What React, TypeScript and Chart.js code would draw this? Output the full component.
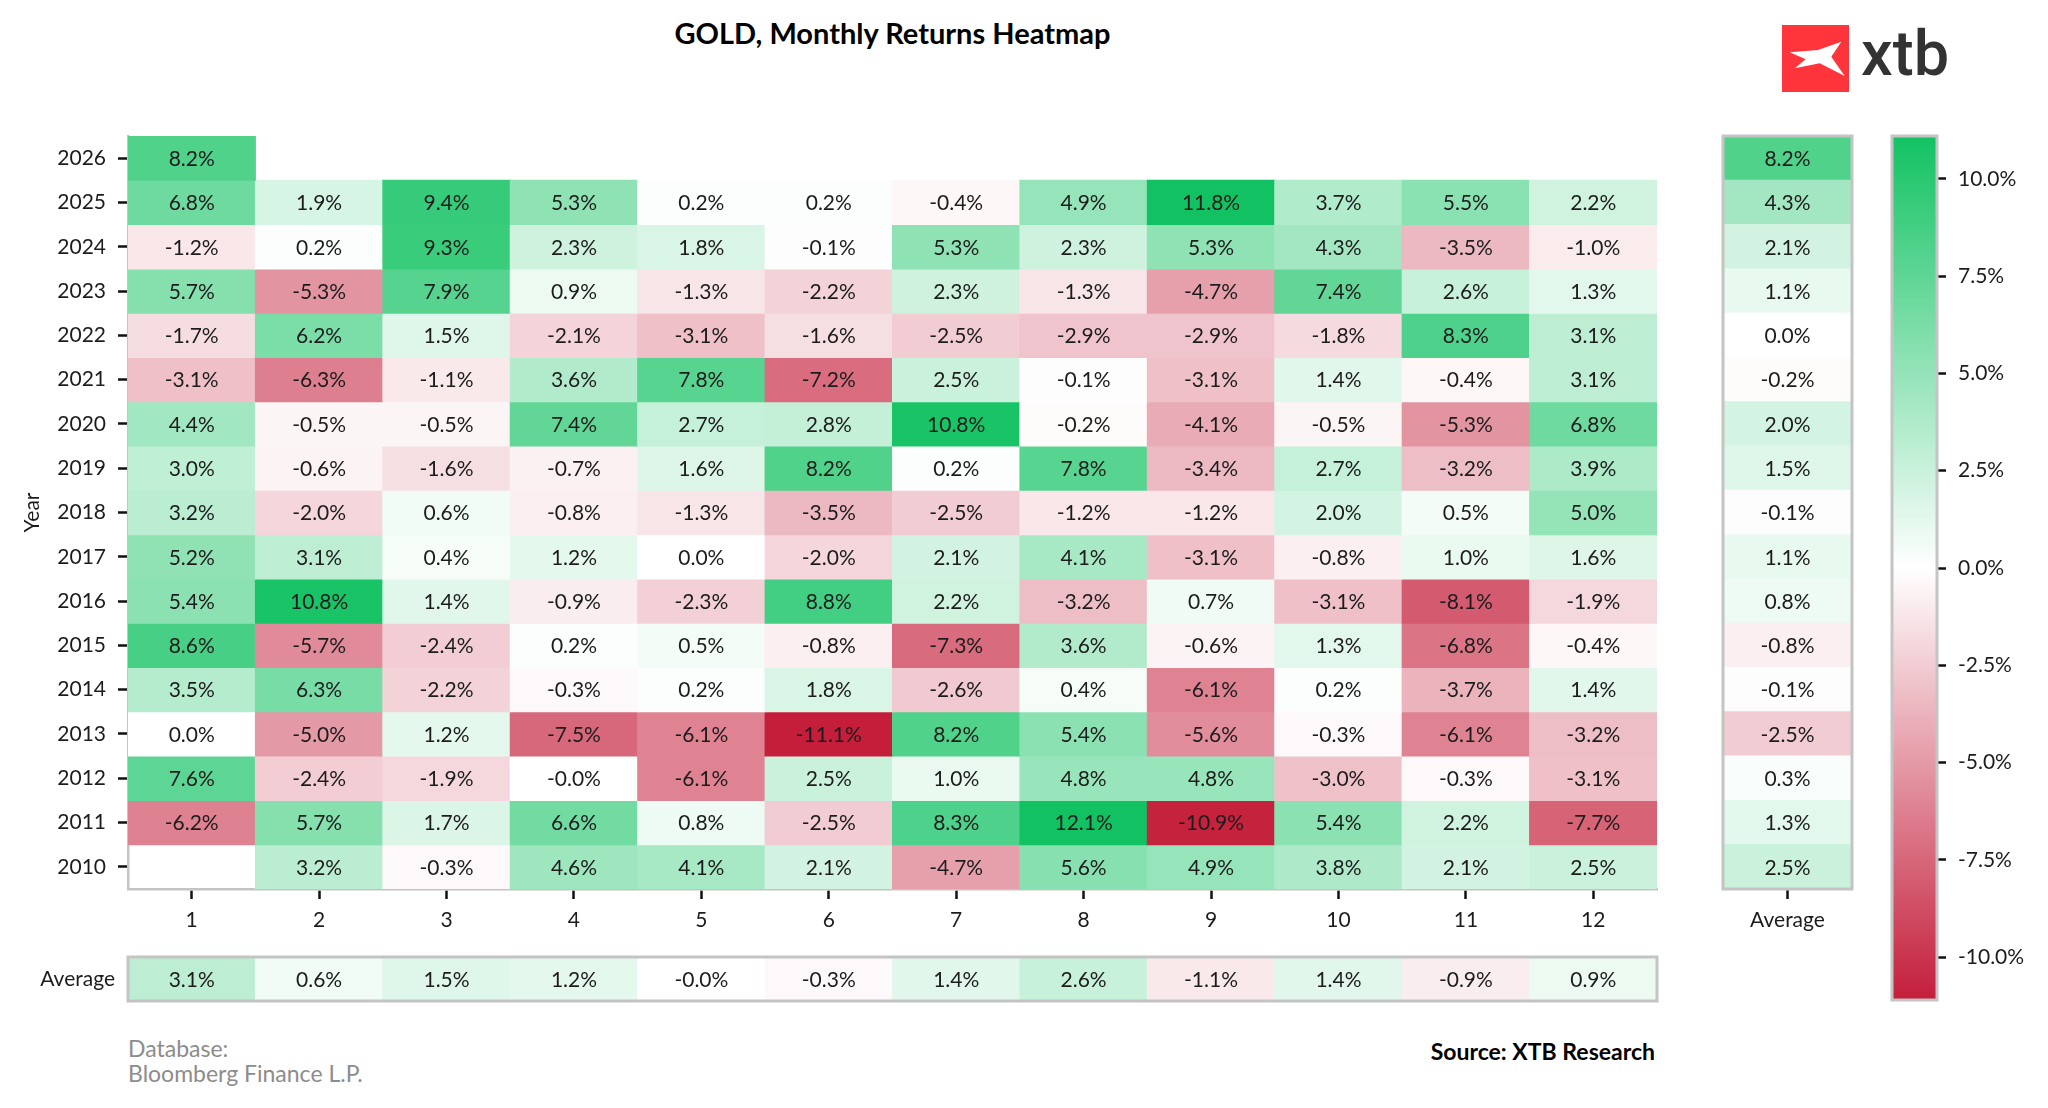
import React, { useEffect, useRef } from "react";
import { Chart, registerables } from "chart.js";

Chart.register(...registerables);

// ---------------- data ----------------
const MONTHS = ["1", "2", "3", "4", "5", "6", "7", "8", "9", "10", "11", "12"];
const YEARS = ["2026", "2025", "2024", "2023", "2022", "2021", "2020", "2019", "2018", "2017", "2016", "2015", "2014", "2013", "2012", "2011", "2010"];

const R2026 = [8.2, null, null, null, null, null, null, null, null, null, null, null];
const R2025 = [6.8, 1.9, 9.4, 5.3, 0.2, 0.2, -0.4, 4.9, 11.8, 3.7, 5.5, 2.2];
const R2024 = [-1.2, 0.2, 9.3, 2.3, 1.8, -0.1, 5.3, 2.3, 5.3, 4.3, -3.5, -1.0];
const R2023 = [5.7, -5.3, 7.9, 0.9, -1.3, -2.2, 2.3, -1.3, -4.7, 7.4, 2.6, 1.3];
const R2022 = [-1.7, 6.2, 1.5, -2.1, -3.1, -1.6, -2.5, -2.9, -2.9, -1.8, 8.3, 3.1];
const R2021 = [-3.1, -6.3, -1.1, 3.6, 7.8, -7.2, 2.5, -0.1, -3.1, 1.4, -0.4, 3.1];
const R2020 = [4.4, -0.5, -0.5, 7.4, 2.7, 2.8, 10.8, -0.2, -4.1, -0.5, -5.3, 6.8];
const R2019 = [3.0, -0.6, -1.6, -0.7, 1.6, 8.2, 0.2, 7.8, -3.4, 2.7, -3.2, 3.9];
const R2018 = [3.2, -2.0, 0.6, -0.8, -1.3, -3.5, -2.5, -1.2, -1.2, 2.0, 0.5, 5.0];
const R2017 = [5.2, 3.1, 0.4, 1.2, 0.0, -2.0, 2.1, 4.1, -3.1, -0.8, 1.0, 1.6];
const R2016 = [5.4, 10.8, 1.4, -0.9, -2.3, 8.8, 2.2, -3.2, 0.7, -3.1, -8.1, -1.9];
const R2015 = [8.6, -5.7, -2.4, 0.2, 0.5, -0.8, -7.3, 3.6, -0.6, 1.3, -6.8, -0.4];
const R2014 = [3.5, 6.3, -2.2, -0.3, 0.2, 1.8, -2.6, 0.4, -6.1, 0.2, -3.7, 1.4];
const R2013 = [0.0, -5.0, 1.2, -7.5, -6.1, -11.1, 8.2, 5.4, -5.6, -0.3, -6.1, -3.2];
const R2012 = [7.6, -2.4, -1.9, -0, -6.1, 2.5, 1.0, 4.8, 4.8, -3.0, -0.3, -3.1];
const R2011 = [-6.2, 5.7, 1.7, 6.6, 0.8, -2.5, 8.3, 12.1, -10.9, 5.4, 2.2, -7.7];
const R2010 = [null, 3.2, -0.3, 4.6, 4.1, 2.1, -4.7, 5.6, 4.9, 3.8, 2.1, 2.5];

const ROWS = [R2026, R2025, R2024, R2023, R2022, R2021, R2020, R2019, R2018, R2017, R2016, R2015, R2014, R2013, R2012, R2011, R2010];

const YEAR_AVG = [8.2, 4.3, 2.1, 1.1, 0.0, -0.2, 2.0, 1.5, -0.1, 1.1, 0.8, -0.8, -0.1, -2.5, 0.3, 1.3, 2.5];
const MONTH_AVG = [3.1, 0.6, 1.5, 1.2, -0, -0.3, 1.4, 2.6, -1.1, 1.4, -0.9, 0.9];

const COLORBAR_TICKS = [-10, -7.5, -5, -2.5, 0, 2.5, 5, 7.5, 10];
const COLOR_MIN = -11.1;
const COLOR_MAX = 11.1;

// ---------------- styles ----------------
const FONT = "Lato, 'Open Sans', sans-serif";
const TEXT = "#1c1c1c";
const GREEN = [18, 194, 98];
const RED = [196, 30, 58];
const FRAME = "#c4c4c4";

function colorFor(v: number | null): string {
  if (v == null) return "rgba(0,0,0,0)";
  const t = Math.max(-1, Math.min(1, v >= 0 ? v / COLOR_MAX : v / -COLOR_MIN));
  const end = t >= 0 ? GREEN : RED;
  const a = Math.abs(t);
  const c = end.map((e) => Math.round(255 + (e - 255) * a));
  return `rgb(${c[0]},${c[1]},${c[2]})`;
}

function fmt(v: number): string {
  const neg = v < 0 || Object.is(v, -0);
  return (neg ? "-" : "") + Math.abs(v).toFixed(1) + "%";
}

// ---------------- plugins ----------------
const cellLabels = {
  id: "cellLabels",
  afterDatasetsDraw(chart: any) {
    const ctx = chart.ctx;
    ctx.save();
    ctx.font = `21px ${FONT}`;
    ctx.fillStyle = TEXT;
    ctx.textAlign = "center";
    ctx.textBaseline = "middle";
    chart.data.datasets.forEach((ds: any, di: number) => {
      if (!ds.values) return;
      const meta = chart.getDatasetMeta(di);
      meta.data.forEach((el: any, i: number) => {
        const v = ds.values[i];
        if (v == null) return;
        const p = el.getCenterPoint(true);
        ctx.fillText(fmt(v), p.x, p.y + 1);
      });
    });
    ctx.restore();
  },
};

const frame = {
  id: "frame",
  afterDraw(chart: any, _args: any, opts: any) {
    if (!opts || !opts.show) return;
    const { left, top, width, height } = chart.chartArea;
    const ctx = chart.ctx;
    ctx.save();
    ctx.strokeStyle = FRAME;
    ctx.lineWidth = 3;
    ctx.strokeRect(left, top, width, height);
    ctx.restore();
  },
};

const tickFont = { family: FONT, size: 21 };
const tickGrid = {
  display: true,
  drawOnChartArea: false,
  drawTicks: true,
  tickLength: 10,
  tickWidth: 2.5,
  tickColor: "#111",
  offset: false,
};

const baseOptions = {
  responsive: false,
  animation: false as const,
  events: [] as any[],
};

function barDefaults() {
  return {
    borderWidth: 0,
    grouped: false,
    barPercentage: 1,
    categoryPercentage: 1,
    inflateAmount: 0.5,
  };
}

function fixV(width: number) {
  return (s: any) => {
    s.width = width;
    s.paddingTop = 0;
    s.paddingBottom = 0;
  };
}
function fixH(height: number) {
  return (s: any) => {
    s.height = height;
    s.paddingLeft = 0;
    s.paddingRight = 0;
  };
}

// ---------------- chart configs ----------------
function mainConfig(): any {
  return {
    type: "bar",
    data: {
      labels: MONTHS,
      datasets: ROWS.map((row, k) => ({
        label: YEARS[k],
        data: row.map((v) => (v == null ? null : [k - 0.5, k + 0.5])),
        values: row,
        backgroundColor: row.map(colorFor),
        ...barDefaults(),
      })),
    },
    options: {
      ...baseOptions,
      layout: { padding: { left: 0, top: 16, right: 23, bottom: 0 } },
      plugins: { legend: { display: false }, tooltip: { enabled: false }, frame: { show: false } },
      scales: {
        x: {
          type: "category",
          grid: tickGrid,
          border: { display: true, color: FRAME, width: 2.5 },
          ticks: { font: tickFont, color: TEXT, padding: 9, autoSkip: false, maxRotation: 0 },
          afterFit: fixH(61),
          z: 1,
        },
        y: {
          type: "linear",
          reverse: true,
          min: -0.5,
          max: 16.5,
          afterBuildTicks: (s: any) => {
            s.ticks = YEARS.map((_, k) => ({ value: k }));
          },
          grid: tickGrid,
          border: { display: true, color: FRAME, width: 2.5 },
          ticks: {
            font: tickFont,
            color: TEXT,
            padding: 12,
            autoSkip: false,
            callback: (v: number) => YEARS[Math.round(v)],
          },
          title: { display: true, text: "Year", font: { family: FONT, size: 21 }, color: TEXT, padding: { top: 20, bottom: 0 } },
          afterFit: fixV(128),
          z: 1,
        },
      },
    },
    plugins: [cellLabels, frame],
  };
}

function avgColumnConfig(): any {
  return {
    type: "bar",
    data: {
      labels: YEARS,
      datasets: [
        {
          data: YEAR_AVG.map(() => [-0.5, 0.5]),
          values: YEAR_AVG,
          backgroundColor: YEAR_AVG.map(colorFor),
          ...barDefaults(),
        },
      ],
    },
    options: {
      ...baseOptions,
      indexAxis: "y",
      layout: { padding: { left: 23, top: 16, right: 28, bottom: 0 } },
      plugins: { legend: { display: false }, tooltip: { enabled: false }, frame: { show: true } },
      scales: {
        y: { type: "category", display: false },
        x: {
          type: "linear",
          min: -0.5,
          max: 0.5,
          afterBuildTicks: (s: any) => {
            s.ticks = [{ value: 0 }];
          },
          grid: tickGrid,
          border: { display: false },
          ticks: { font: tickFont, color: TEXT, padding: 9, callback: () => "Average" },
          afterFit: fixH(61),
        },
      },
    },
    plugins: [cellLabels, frame],
  };
}

function avgRowConfig(): any {
  return {
    type: "bar",
    data: {
      labels: MONTHS,
      datasets: [
        {
          data: MONTH_AVG.map(() => [-0.5, 0.5]),
          values: MONTH_AVG,
          backgroundColor: MONTH_AVG.map(colorFor),
          ...barDefaults(),
        },
      ],
    },
    options: {
      ...baseOptions,
      layout: { padding: { left: 0, top: 17, right: 23, bottom: 19 } },
      plugins: { legend: { display: false }, tooltip: { enabled: false }, frame: { show: true } },
      scales: {
        x: { type: "category", display: false },
        y: {
          type: "linear",
          min: -0.5,
          max: 0.5,
          afterBuildTicks: (s: any) => {
            s.ticks = [{ value: 0 }];
          },
          grid: { display: false, drawTicks: false },
          border: { display: false },
          ticks: { font: tickFont, color: TEXT, padding: 13, callback: () => "Average" },
          afterFit: fixV(128),
        },
      },
    },
    plugins: [cellLabels, frame],
  };
}

function colorbarConfig(): any {
  return {
    type: "bar",
    data: {
      labels: [""],
      datasets: [
        {
          data: [[COLOR_MIN, COLOR_MAX]],
          backgroundColor: (c: any) => {
            const area = c.chart.chartArea;
            if (!area) return "rgba(0,0,0,0)";
            const g = c.chart.ctx.createLinearGradient(0, area.bottom, 0, area.top);
            g.addColorStop(0, colorFor(COLOR_MIN));
            g.addColorStop(0.5, colorFor(0));
            g.addColorStop(1, colorFor(COLOR_MAX));
            return g;
          },
          ...barDefaults(),
        },
      ],
    },
    options: {
      ...baseOptions,
      layout: { padding: { left: 12, top: 16, right: 0, bottom: 20 } },
      plugins: { legend: { display: false }, tooltip: { enabled: false }, frame: { show: true } },
      scales: {
        x: { type: "category", display: false },
        y: {
          type: "linear",
          position: "right",
          min: COLOR_MIN,
          max: COLOR_MAX,
          afterBuildTicks: (s: any) => {
            s.ticks = COLORBAR_TICKS.map((v) => ({ value: v }));
          },
          grid: { ...tickGrid, tickLength: 9 },
          border: { display: false },
          ticks: { font: tickFont, color: TEXT, padding: 12, callback: (v: number) => v.toFixed(1) + "%" },
          afterFit: fixV(111),
        },
      },
    },
    plugins: [frame],
  };
}

// ---------------- components ----------------
function ChartBox(props: { left: number; top: number; width: number; height: number; make: () => any }) {
  const ref = useRef<HTMLCanvasElement>(null);
  useEffect(() => {
    const chart = new Chart(ref.current as HTMLCanvasElement, props.make());
    return () => chart.destroy();
  }, []);
  return (
    <div style={{ position: "absolute", left: props.left, top: props.top, width: props.width, height: props.height }}>
      <canvas ref={ref} width={props.width} height={props.height} style={{ width: props.width, height: props.height, display: "block" }} />
    </div>
  );
}

function Logo() {
  return (
    <>
      <svg style={{ position: "absolute", left: 1782, top: 25 }} width={67} height={67} viewBox="0 0 67 67">
        <rect x={0} y={0} width={67} height={67} fill="#ff353b" />
        <polygon points="7.7,27.3 36,25 59.3,16.7 49.3,31.7 62.7,51 37.7,38.3 12.7,43.3 23.7,34.3" fill="#ffffff" />
      </svg>
      <div
        style={{
          position: "absolute",
          left: 1861,
          top: 22,
          fontFamily: "Roboto, sans-serif",
          fontWeight: 500,
          fontSize: 63,
          lineHeight: "63px",
          color: "#333333",
        }}
      >
        xtb
      </div>
    </>
  );
}

export default function App() {
  useEffect(() => {
    document.body.style.margin = "0";
  }, []);
  return (
    <div style={{ position: "absolute", left: 0, top: 0, width: 2048, height: 1108, background: "#ffffff", fontFamily: FONT, overflow: "hidden" }}>
      <div
        style={{
          position: "absolute",
          left: 0,
          top: 17,
          width: 1785,
          textAlign: "center",
          fontWeight: 700,
          fontSize: 29,
          lineHeight: "32px",
          color: "#000",
        }}
      >
        GOLD, Monthly Returns Heatmap
      </div>
      <Logo />
      <ChartBox left={0} top={120} width={1680} height={830} make={mainConfig} />
      <ChartBox left={1700} top={120} width={180} height={830} make={avgColumnConfig} />
      <ChartBox left={0} top={940} width={1680} height={80} make={avgRowConfig} />
      <ChartBox left={1880} top={120} width={168} height={900} make={colorbarConfig} />
      <div style={{ position: "absolute", left: 128, top: 1036, fontSize: 23, lineHeight: "25px", color: "#8c8c8c" }}>
        Database:
        <br />
        Bloomberg Finance L.P.
      </div>
      <div
        style={{
          position: "absolute",
          left: 1155,
          top: 1038,
          width: 500,
          textAlign: "right",
          fontWeight: 700,
          fontSize: 23,
          lineHeight: "26px",
          color: "#000",
        }}
      >
        Source: XTB Research
      </div>
    </div>
  );
}
